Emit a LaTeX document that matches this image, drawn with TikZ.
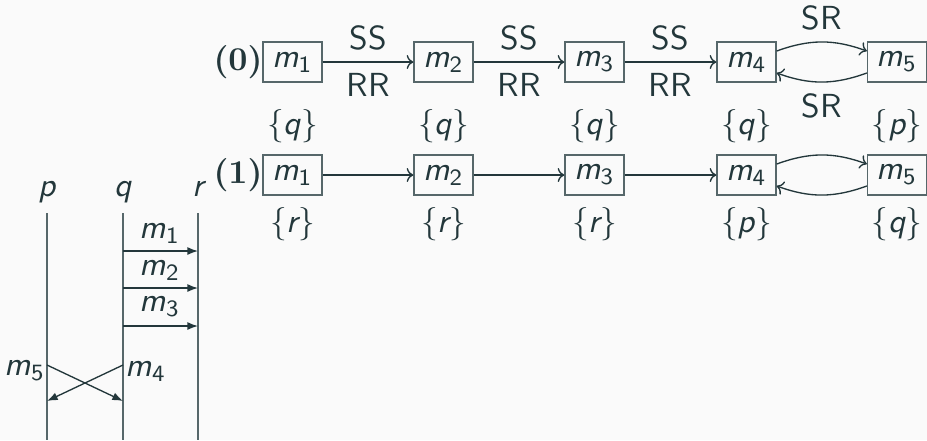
\documentclass[tikz,border=0pt]{standalone}
\usepackage{amsmath}
\usepackage{fontspec}
\renewcommand{\familydefault}{\sfdefault}
\usetikzlibrary{arrows.meta}
\definecolor{fg}{HTML}{23373B}
\definecolor{bg}{HTML}{FAFAFA}
\definecolor{rule}{HTML}{56676A}
% sans italic letters and sans subscripts, as in the slides
\newcommand{\sv}[1]{\text{\sffamily\itshape #1}}
\newcommand{\msg}[1]{$\sv{m}_{\text{\sffamily #1}}$}
\begin{document}
\begin{tikzpicture}[x=0.3pt,y=-0.3pt,
  every node/.style={text=fg, font=\sffamily},
  msgbox/.style={draw=rule, line width=0.4pt, minimum width=17.7pt, minimum height=12pt, inner sep=0pt},
  rowtag/.style={font=\rmfamily\bfseries},
  flow/.style={draw=fg, line width=0.4pt, -{To[length=2pt,width=4.2pt]}},
  lifeline/.style={draw=rule, line width=0.4pt},
  send/.style={draw=fg, line width=0.4pt, -{Latex[length=3.2pt,width=2.4pt]}}]
\fill[bg] (0,0) rectangle (927,440);
\useasboundingbox (0,0) rectangle (927,440);

% ---- row (0): dependency graph with edge kinds
\node[rowtag] (t0) at (238,62) {(0)};
\node[msgbox] (a1) at (292.5,62) {\msg{1}};
\node[msgbox] (a2) at (443.5,62) {\msg{2}};
\node[msgbox] (a3) at (594.5,62) {\msg{3}};
\node[msgbox] (a4) at (746.5,62) {\msg{4}};
\node[msgbox] (a5) at (897,62) {\msg{5}};
\draw[flow] (a1) -- node[above]{SS} node[below]{RR} (a2);
\draw[flow] (a2) -- node[above]{SS} node[below]{RR} (a3);
\draw[flow] (a3) -- node[above]{SS} node[below]{RR} (a4);
\draw[flow] (a4) to[bend left=20] node[above]{SR} (a5);
\draw[flow] (a5) to[bend left=20] node[below]{SR} (a4);

% ---- row (1): same graph with process sets
\node[rowtag] (t1) at (238,175) {(1)};
\node[msgbox, label={above:$\{\sv{q}\}$}, label={below:$\{\sv{r}\}$}] (b1) at (292.5,175) {\msg{1}};
\node[msgbox, label={above:$\{\sv{q}\}$}, label={below:$\{\sv{r}\}$}] (b2) at (443.5,175) {\msg{2}};
\node[msgbox, label={above:$\{\sv{q}\}$}, label={below:$\{\sv{r}\}$}] (b3) at (594.5,175) {\msg{3}};
\node[msgbox, label={above:$\{\sv{q}\}$}, label={below:$\{\sv{p}\}$}] (b4) at (746.5,175) {\msg{4}};
\node[msgbox, label={above:$\{\sv{p}\}$}, label={below:$\{\sv{q}\}$}] (b5) at (897,175) {\msg{5}};
\draw[flow] (b1) -- (b2);
\draw[flow] (b2) -- (b3);
\draw[flow] (b3) -- (b4);
\draw[flow] (b4) to[bend left=20] (b5);
\draw[flow] (b5) to[bend left=20] (b4);

% ---- space-time diagram of processes p, q, r
\node[anchor=base] (lp) at (47,196) {$\sv{p}$};
\node[anchor=base] (lq) at (123,196) {$\sv{q}$};
\node[anchor=base] (lr) at (198,196) {$\sv{r}$};
\coordinate (pt) at (47,213);  \coordinate (pb) at (47,440);
\coordinate (qt) at (123,213); \coordinate (qb) at (123,440);
\coordinate (rt) at (198,213); \coordinate (rb) at (198,440);
\draw[lifeline] (pt) -- (pb);
\draw[lifeline] (qt) -- (qb);
\draw[lifeline] (rt) -- (rb);

\coordinate (q1) at (123,251); \coordinate (r1) at (198,251);
\coordinate (q2) at (123,288); \coordinate (r2) at (198,288);
\coordinate (q3) at (123,326); \coordinate (r3) at (198,326);
\draw[send] (q1) -- (r1);
\draw[send] (q2) -- (r2);
\draw[send] (q3) -- (r3);
\node (l1) at (160,233) {\msg{1}};
\node (l2) at (160,270) {\msg{2}};
\node (l3) at (160,307) {\msg{3}};

\coordinate (p4) at (47,365);  \coordinate (q4) at (123,365);
\coordinate (p5) at (47,401);  \coordinate (q5) at (123,401);
\draw[send] (p4) -- (q5);
\draw[send] (q4) -- (p5);
\node (l5) at (25,371) {\msg{5}};
\node (l4) at (146,371) {\msg{4}};
\end{tikzpicture}
\end{document}
